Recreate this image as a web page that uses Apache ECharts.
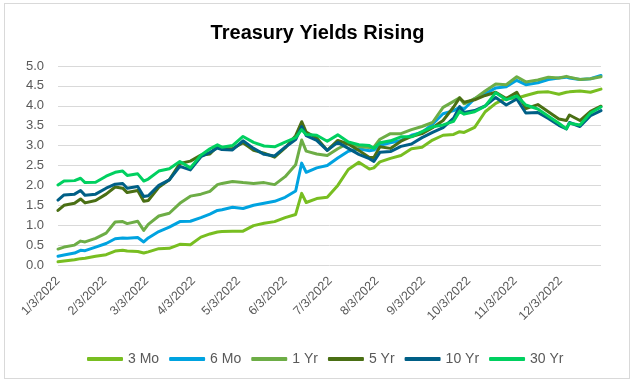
<!DOCTYPE html>
<html><head><meta charset="utf-8">
<script src="https://cdn.jsdelivr.net/npm/echarts@6/dist/echarts.min.js"></script>
<style>
html,body{margin:0;padding:0;background:#fff;}
#frame{position:absolute;left:4px;top:3px;width:624px;height:374px;border:1px solid #d9d9d9;}
#chart{position:absolute;left:0;top:0;width:635px;height:382px;}
</style></head>
<body><div id="frame"></div><div id="chart"></div>
<script>
const dates = ['2022-01-03','2022-01-07','2022-01-14','2022-01-18','2022-01-21','2022-01-28',
'2022-02-04','2022-02-10','2022-02-15','2022-02-18','2022-02-25',
'2022-03-01','2022-03-04','2022-03-11','2022-03-18','2022-03-25',
'2022-04-01','2022-04-08','2022-04-14','2022-04-19','2022-04-22','2022-04-29',
'2022-05-06','2022-05-13','2022-05-20','2022-05-27',
'2022-06-03','2022-06-10','2022-06-14','2022-06-17','2022-06-24',
'2022-07-01','2022-07-08','2022-07-15','2022-07-22','2022-07-29',
'2022-08-01','2022-08-05','2022-08-12','2022-08-19','2022-08-26',
'2022-09-02','2022-09-09','2022-09-16','2022-09-23','2022-09-27','2022-09-30',
'2022-10-07','2022-10-14','2022-10-21','2022-10-28',
'2022-11-04','2022-11-10','2022-11-18','2022-11-25',
'2022-12-02','2022-12-07','2022-12-09','2022-12-16','2022-12-23','2022-12-30'];

const mo3 = [0.08,0.10,0.13,0.16,0.17,0.22, 0.26,0.35,0.37,0.35,0.34, 0.30,0.33,0.41,0.42,0.52,
0.51,0.70,0.78,0.83,0.84,0.85, 0.85,0.99,1.05,1.09, 1.19,1.27,1.80,1.57,1.67,
1.70,2.00,2.40,2.58,2.41, 2.44,2.59,2.68,2.75,2.92, 2.96,3.14,3.26,3.28,3.35,3.33,
3.46,3.85,4.06,4.19, 4.19,4.26,4.34,4.35, 4.29,4.34,4.35,4.37,4.34,4.42];

const mo6 = [0.22,0.25,0.30,0.37,0.36,0.45, 0.54,0.66,0.68,0.67,0.69, 0.58,0.68,0.84,0.95,1.09,
1.10,1.19,1.28,1.37,1.39,1.45, 1.42,1.50,1.55,1.60, 1.70,1.86,2.56,2.33,2.44,
2.50,2.69,2.86,2.92,2.87, 2.89,3.01,3.07,3.13,3.26, 3.33,3.54,3.80,3.88,3.96,3.92,
4.18,4.30,4.45,4.48, 4.64,4.53,4.58,4.66, 4.70,4.72,4.70,4.66,4.68,4.76];

const yr1 = [0.40,0.45,0.50,0.60,0.58,0.67, 0.80,1.08,1.09,1.04,1.10, 0.87,1.02,1.23,1.30,1.55,
1.73,1.78,1.85,2.02,2.05,2.10, 2.07,2.05,2.07,2.02, 2.22,2.52,3.14,2.86,2.79,
2.75,2.92,3.06,2.98,2.95, 2.96,3.16,3.30,3.30,3.40, 3.48,3.58,3.96,4.11,4.20,4.05,
4.18,4.37,4.55,4.53, 4.73,4.60,4.65,4.72, 4.70,4.74,4.72,4.66,4.68,4.73];

const yr5 = [1.37,1.50,1.55,1.66,1.56,1.62, 1.78,1.96,1.93,1.82,1.87, 1.60,1.62,1.95,2.14,2.55,
2.61,2.76,2.79,2.98,2.93,2.92, 3.07,2.88,2.81,2.71, 2.94,3.25,3.60,3.34,3.19,
2.88,3.13,3.04,2.88,2.70, 2.70,2.97,2.93,3.11,3.23, 3.30,3.45,3.63,3.97,4.20,4.09,
4.15,4.26,4.34,4.18, 4.34,3.93,4.03,3.85, 3.67,3.63,3.77,3.63,3.86,3.99];

const yr10 = [1.63,1.76,1.78,1.87,1.75,1.78, 1.93,2.03,2.05,1.93,1.97, 1.72,1.74,2.00,2.14,2.48,
2.39,2.72,2.83,2.94,2.90,2.89, 3.12,2.93,2.78,2.74, 2.96,3.15,3.48,3.25,3.13,
2.88,3.08,2.93,2.78,2.67, 2.60,2.83,2.85,2.98,3.04, 3.20,3.33,3.45,3.69,3.98,3.83,
3.88,4.00,4.21,4.02, 4.17,3.82,3.83,3.68, 3.51,3.42,3.58,3.48,3.75,3.88];

const yr30 = [2.01,2.11,2.12,2.18,2.07,2.08, 2.23,2.33,2.36,2.25,2.29, 2.11,2.16,2.36,2.42,2.60,
2.44,2.76,2.92,3.02,2.96,3.00, 3.23,3.08,2.99,2.97, 3.09,3.20,3.40,3.28,3.26,
3.11,3.27,3.09,3.02,3.00, 2.93,3.07,3.12,3.22,3.22, 3.35,3.47,3.52,3.61,3.86,3.79,
3.85,3.99,4.33,4.15, 4.25,4.02,3.92,3.74, 3.56,3.42,3.56,3.52,3.82,3.97];

const seriesNames = ['3 Mo','6 Mo','1 Yr','5 Yr','10 Yr','30 Yr'];
const seriesValues = [mo3, mo6, yr1, yr5, yr10, yr30];
const seriesColors = ['#78BE21','#00A3E0','#6DAD46','#4A6F14','#005F86','#00D060'];
const tickLabelDates = ['2022-01-03','2022-02-03','2022-03-03','2022-04-03','2022-05-03','2022-06-03',
'2022-07-03','2022-08-03','2022-09-03','2022-10-03','2022-11-03','2022-12-03'];
const startDate = '2022-01-03', endDate = '2022-12-30';

function utc(s){const p=s.split('-').map(Number);return Date.UTC(p[0],p[1]-1,p[2]);}
function dayNum(s){return Math.round((utc(s)-utc(startDate))/86400000);}
function dayLabel(n){const d=new Date(utc(startDate)+n*86400000);return (d.getUTCMonth()+1)+'/'+d.getUTCDate()+'/'+d.getUTCFullYear();}
const FONT = "'Liberation Sans',Arial,sans-serif";

const chart = echarts.init(document.getElementById('chart'), null, {renderer:'canvas'});
chart.setOption({
  animation:false,
  backgroundColor:'transparent',
  title:{text:'Treasury Yields Rising', left:'center', top:18,
    textStyle:{fontFamily:FONT, fontSize:20, fontWeight:'bold', color:'#000'}},
  grid:{left:58, right:34, top:66, bottom:117, containLabel:false},
  legend:{data:seriesNames, left:82, top:347, icon:'roundRect', itemWidth:36, itemHeight:4, itemGap:10,
    textStyle:{fontFamily:FONT, fontSize:14, color:'#595959'}},
  xAxis:{type:'value', min:0, max:dayNum(endDate),
    axisLine:{show:false}, axisTick:{show:false}, splitLine:{show:false},
    axisLabel:{customValues:tickLabelDates.map(dayNum), rotate:45, margin:14, hideOverlap:false,
      fontFamily:FONT, fontSize:12.5, color:'#595959',
      formatter:function(v){return dayLabel(v);}}},
  yAxis:{type:'value', min:0, max:5, interval:0.5,
    axisLine:{show:false}, axisTick:{show:false},
    splitLine:{lineStyle:{color:'#d9d9d9', width:1}},
    axisLabel:{fontFamily:FONT, fontSize:13, color:'#595959', margin:14,
      formatter:function(v){return v.toFixed(1);}}},
  series: seriesNames.map(function(n,i){return {
    name:n, type:'line', symbol:'none', smooth:false,
    data: dates.map(function(d,j){return [dayNum(d), seriesValues[i][j]];}),
    lineStyle:{color:seriesColors[i], width:3, join:'round', cap:'round'},
    itemStyle:{color:seriesColors[i]}
  };})
});
</script></body></html>
